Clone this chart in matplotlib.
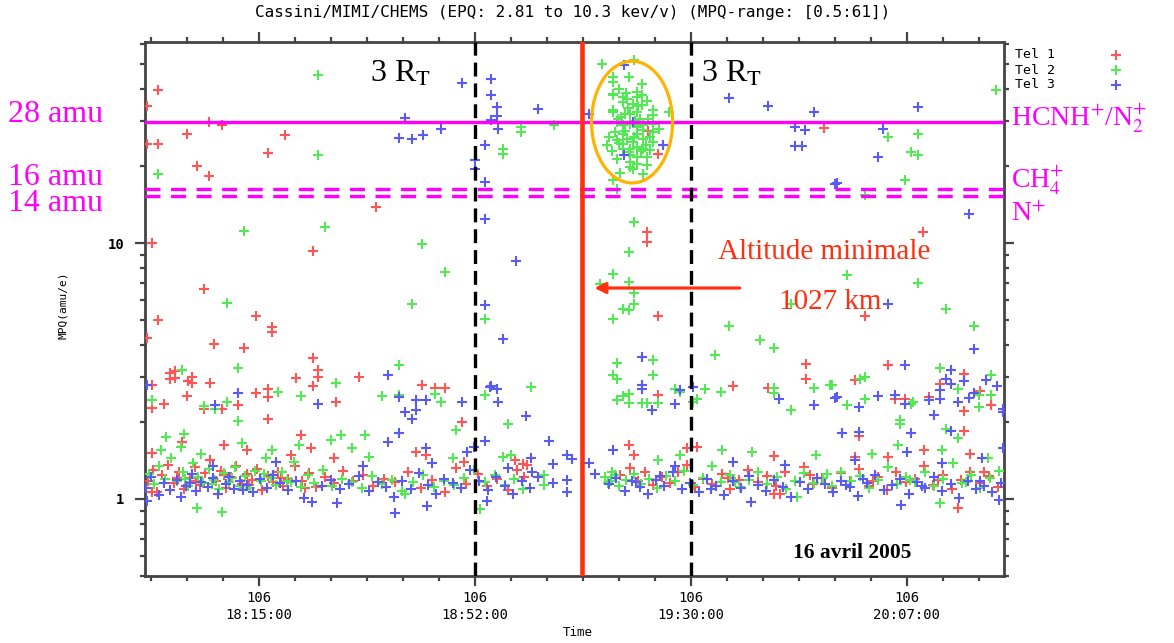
import matplotlib
matplotlib.use("Agg")
import matplotlib.pyplot as plt
from matplotlib.ticker import FixedLocator, MultipleLocator, NullFormatter, FixedFormatter
from matplotlib.patches import Ellipse
from matplotlib.lines import Line2D

plt.rcParams['mathtext.fontset'] = 'stix'
plt.rcParams['lines.scale_dashes'] = False

# ---------------- data (time in minutes after 18:00, MPQ in amu/e) ----------------
tick_pos = [15.0, 52.333, 89.667, 127.0]
tick_labels = ["106\n18:15:00", "106\n18:52:00", "106\n19:30:00", "106\n20:07:00"]
series_names = ["Tel 1", "Tel 2", "Tel 3"]
series_colors = ["#ff5555", "#55e855", "#5a5af5"]

red_hi = [(-2.5,39.6),(-4.4,34.3),(6.4,29.7),(8.6,28.9),(2.6,26.7),(19.5,26.4),(-4.4,24.4),(-2.5,24.4),
          (16.6,22.5),(4.3,20.0),(6.4,18.2),(-3.5,10.0),(24.4,9.3),(5.5,6.6),(-2.5,5.0),(14.5,5.19),
          (17.2,4.7),(17.2,4.5),(-4.4,4.26),(7.3,4.03),(12.4,3.88),(24.4,3.56),(25.2,3.2),(25.2,3.0),
          (-0.4,3.1),(0.5,3.15),(-0.4,2.95),(0.5,2.98),(2.8,2.9),(3.4,3.0),(3.4,2.85),(6.6,2.84),
          (-3.5,2.8),(21.4,2.97),(24.4,2.76),(2.6,2.52),(14.5,2.6),(16.6,2.7),(16.6,2.5),(-3.5,2.27),
          (-1.4,2.35),(5.5,2.25),(8.6,2.25),(11.4,2.33),(16.6,2.05),(22.3,1.77),
          (35.2,13.8),(32.3,3.0),(43.2,2.79),(45.4,2.71),(47.1,2.71),(28.3,2.39),(50.1,2.0),(42.2,1.52),
          (43.9,1.49),(82.3,27.4),(84.0,22.2),(82.1,11.0),(82.1,10.1),(84.0,5.2),(84.0,2.55),(79.0,1.63),
          (79.8,1.49),(112.7,28.2),(109.6,3.37),(109.6,2.95),(96.9,2.76),(103.0,2.71),(89.0,1.58),
          (90.7,1.6),(129.8,11.0),(119.8,5.2),(123.7,3.34),(136.8,3.08),(118.0,2.92),(132.7,2.82),
          (139.6,2.64),(124.9,2.46),(126.7,2.46),(130.8,2.5),(136.8,2.2),(141.6,2.33),(118.8,1.76),
          (136.8,1.84),(135.9,0.92),(104.0,1.05),(105.0,1.05),(-3.5,1.06)]

green_hi = [(25.2,45.3),(25.2,22.1),(-2.5,18.6),(12.4,11.1),(9.5,5.83),(11.4,3.25),(1.7,3.2),(18.3,2.62),
            (22.3,2.52),(-3.5,2.44),(5.5,2.3),(7.4,2.25),(9.5,2.4),(11.4,2.02),(-1.0,1.75),(2.0,1.8),
            (27.5,1.7),(4.3,0.92),(8.6,0.89),(26.4,11.6),(43.2,9.9),(47.1,7.7),(41.5,5.78),(54.0,5.05),
            (39.2,3.34),(28.3,2.84),(54.0,2.55),(36.3,2.52),(39.2,2.55),(45.4,2.57),(46.5,2.39),(49.0,1.86),
            (29.2,1.77),(33.3,1.77),(40.2,1.05),(53.2,0.91),(60.3,28.4),(60.3,27.1),(66.0,28.9),(57.2,23.3),
            (57.2,22.2),(56.1,2.7),(62.0,2.73),(58.0,1.96),(57.2,1.46),(74.3,50.0),(79.8,52.0),(76.2,17.6),
            (76.9,16.3),(79.8,12.1),(79.0,9.2),(76.2,7.6),(73.9,6.9),(79.0,7.05),(79.8,6.4),(79.8,5.8),
            (77.9,5.5),(79.0,5.45),(76.2,5.05),(83.1,3.5),(76.9,3.4),(76.2,3.05),(76.9,2.95),(83.1,3.05),
            (79.0,2.57),(77.9,2.52),(76.9,2.44),(79.0,2.37),(81.2,2.37),(82.1,2.37),(84.0,2.37),
            (85.9,32.4),(107.0,5.78),(96.3,4.76),(101.6,4.18),(104.0,3.88),(93.8,3.64),(111.0,2.71),
            (113.7,2.79),(92.1,2.68),(94.9,2.62),(104.0,2.71),(104.0,2.6),(86.9,2.7),(87.8,2.62),
            (90.7,2.46),(90.0,2.4),(107.0,2.22),(87.8,1.49),(108.0,1.02),(142.4,39.6),(123.7,25.9),
            (128.9,26.7),(127.7,22.6),(128.9,22.1),(126.7,17.6),(119.8,15.4),(116.6,7.5),(128.9,7.0),
            (133.8,5.5),(138.6,4.72),(132.7,3.25),(141.6,3.05),(119.8,3.0),(118.9,2.95),(114.0,2.79),
            (135.9,2.7),(139.4,2.55),(141.6,2.55),(119.8,2.46),(116.6,2.33),(128.0,2.4),(127.7,2.35),
            (139.4,2.29),(125.8,2.04),(125.8,1.96),(133.8,1.88),(135.9,1.73),(132.7,0.96)]

green_cluster = [(76.2,44.6),(76.2,42.6),(79.0,44.6),(81.2,41.8),(80.3,38.9),(76.2,38.2),(76.2,37.8),
                 (77.9,37.1),(78.6,36.5),(80.3,37.1),(81.2,37.8),(81.2,34.6),(77.9,35.5),(76.2,33.0),
                 (76.2,32.4),(78.3,31.8),(79.1,31.8),(80.3,32.4),(83.1,33.0),(83.1,31.6),(76.9,29.7),
                 (77.9,28.9),(79.1,29.2),(80.3,28.4),(81.4,28.9),(83.1,29.2),(76.5,27.1),(77.9,26.7),
                 (80.3,26.7),(81.4,27.6),(83.1,27.1),(75.1,24.1),(76.9,25.2),(78.6,25.5),(79.6,24.8),
                 (81.4,25.5),(83.1,24.8),(77.9,23.3),(79.1,23.3),(80.3,23.7),(81.4,23.3),(82.6,23.0),
                 (79.1,22.1),(80.3,21.7),(82.1,21.7),(76.9,21.3),(79.1,20.7),(80.3,20.4),(82.1,20.2),
                 (79.6,19.5),(81.4,18.6),(79.1,19.8),(77.1,30.5),(78.3,27.5),(82.6,26.0),(84.2,28.0),
                 (75.6,26.0),(77.3,40.0),(79.6,35.0),(82.0,35.8),(80.9,30.6),(78.0,24.3),(76.0,22.8),
                 (81.9,24.2),(77.5,18.8),(78.8,33.8),(80.6,34.2),(77.6,31.0),(79.9,26.0),(78.9,22.6),
                 (81.0,22.9),(77.2,24.6),(80.0,30.0),(82.3,30.4),(78.4,38.5)]

blue_hi = [(50.1,42.2),(55.1,43.8),(55.1,37.8),(40.2,30.8),(55.1,30.2),(39.2,25.7),(41.5,25.5),(43.3,26.4),
           (46.5,27.9),(54.0,24.1),(52.3,21.1),(52.3,19.5),(54.0,17.3),(54.0,12.4),(54.0,5.74),(37.3,3.05),
           (55.1,2.76),(39.2,2.5),(42.2,2.44),(43.9,2.44),(50.1,2.39),(40.2,2.18),(42.2,2.23),
           (41.5,2.06),(43.9,1.58),(39.2,1.81),(37.3,1.67),(54.0,1.69),(52.1,1.6),(38.5,0.88),
           (56.1,33.9),(56.1,31.3),(56.3,27.9),(63.2,33.3),(72.1,31.8),(78.1,49.6),(79.6,29.7),(78.1,22.0),
           (84.8,24.1),(59.4,8.5),(57.2,4.2),(81.2,3.6),(81.2,2.8),(81.2,2.7),(82.9,2.22),(55.0,2.73),
           (56.1,2.7),(56.3,2.4),(61.1,2.1),(65.1,1.69),(68.3,1.49),(69.1,1.43),(65.8,1.37),(68.3,1.19),
           (68.3,1.06),(65.8,1.15),(62.2,1.27),(63.2,1.22),(72.1,1.38),(73.1,1.25),(76.2,1.55),
           (96.3,36.8),(103.0,34.3),(111.0,32.4),(107.7,28.4),(109.4,27.6),(107.7,23.9),(108.8,23.9),
           (114.6,17.0),(104.9,2.46),(86.9,2.35),(87.8,2.66),(90.0,2.73),(111.0,2.33),(114.6,2.48),
           (128.9,33.9),(122.9,27.9),(122.0,21.7),(114.9,17.2),(137.7,13.0),(123.7,5.78),(138.6,3.85),
           (126.7,3.34),(134.6,3.2),(133.8,2.95),(134.6,2.82),(136.8,2.9),(140.7,2.92),(142.6,2.76),
           (132.7,2.66),(132.7,2.46),(138.6,2.6),(137.7,2.48),(114.9,2.5),(122.0,2.52),(124.9,2.55),
           (130.8,2.44),(126.7,2.35),(135.9,2.4),(118.8,2.29),(143.7,2.25),(143.7,2.18),(131.7,2.13),
           (115.8,1.81),(118.8,1.83),(127.7,1.81),(134.6,1.84),(143.7,1.58),(-4.4,2.8),(11.4,2.6),
           (7.4,2.33),(25.2,2.35),(-4.4,0.98)]

red_band = [(-4.2,1.18),(-3.3,1.30),(-2.6,1.06),(-1.7,1.24),(-0.8,1.36),(0.3,1.15),(1.2,1.27),(2.1,1.09),
            (3.0,1.21),(3.9,1.33),(4.8,1.13),(5.7,1.26),(6.6,1.42),(7.5,1.17),(8.4,1.29),(9.3,1.10),
            (10.2,1.22),(11.1,1.35),(12.0,1.14),(12.9,1.25),(13.8,1.19),(14.7,1.31),(15.6,1.08),(16.5,1.23),
            (17.4,1.16),(18.3,1.28),(19.2,1.12),(20.1,1.20),(21.3,1.34),(22.5,1.17),(23.7,1.26),(24.9,1.11),
            (26.4,1.22),(28.0,1.15),(29.6,1.29),(31.2,1.18),(33.0,1.24),(34.8,1.12),(36.6,1.20),(38.6,1.16),
            (40.8,1.27),(43.0,1.10),(45.0,1.19),(47.2,1.06),(49.0,1.32),(50.8,1.14),(52.8,1.25),(54.5,1.12),
            (56.2,1.20),(58.0,1.08),(59.6,1.30),(60.9,1.22),(77.4,1.24),(79.1,1.32),(80.5,1.18),(81.8,1.27),
            (83.2,1.13),(84.6,1.22),(86.0,1.15),(87.5,1.28),(89.0,1.36),(90.3,1.11),(91.8,1.20),(93.4,1.14),
            (95.0,1.25),(96.5,1.09),(98.0,1.19),(99.6,1.30),(101.2,1.16),(102.8,1.23),(104.4,1.12),(106.0,1.28),
            (107.6,1.18),(109.2,1.33),(110.8,1.14),(112.4,1.21),(114.0,1.10),(115.6,1.26),(117.2,1.17),
            (118.8,1.31),(120.4,1.12),(122.0,1.22),(123.6,1.08),(125.2,1.27),(126.8,1.16),(128.4,1.20),
            (130.0,1.34),(131.6,1.13),(133.2,1.24),(134.8,1.09),(136.4,1.19),(138.0,1.28),(139.6,1.15),
            (141.2,1.23),(142.8,1.11),
            (-3.5,1.51),(1.7,1.67),(9.0,1.62),(13.0,1.55),(20.5,1.48),(24.0,1.58),(28.0,1.45),(50.5,1.40),
            (59.2,1.42),(60.6,1.37),(61.3,1.36),(104.0,1.47),(118.0,1.46),(123.7,1.46),(130.0,1.55),(138.0,1.50),
            (0.8,1.21),(4.2,1.18),(8.9,1.24),(13.2,1.13),(18.8,1.21),(23.0,1.10),(96.0,1.21),(110.2,1.24),
            (121.2,1.17),(132.4,1.19),(140.3,1.27)]

green_band = [(-4.0,1.25),(-3.1,1.14),(-2.3,1.35),(-1.2,1.20),(-0.2,1.45),(0.9,1.17),(1.8,1.28),(2.7,1.12),
              (3.6,1.38),(4.5,1.22),(5.4,1.15),(6.3,1.31),(7.2,1.19),(8.1,1.09),(9.0,1.26),(9.9,1.16),
              (10.8,1.33),(11.7,1.12),(12.6,1.23),(13.5,1.10),(14.4,1.29),(15.3,1.17),(16.2,1.44),(17.1,1.21),
              (18.0,1.13),(18.9,1.27),(19.8,1.18),(21.0,1.40),(22.2,1.11),(23.4,1.24),(24.6,1.15),(26.0,1.30),
              (27.6,1.12),(29.4,1.20),(31.0,1.16),(32.8,1.10),(34.6,1.23),(36.2,1.14),(38.0,1.19),(39.8,1.07),
              (41.6,1.16),(43.4,1.24),(45.2,1.11),(47.0,1.18),(48.8,1.13),(50.4,1.21),(52.2,1.30),(54.0,1.16),
              (55.8,1.24),(57.5,1.13),(59.1,1.20),(60.6,1.09),(74.8,1.22),(75.4,1.15),(76.0,1.28),(77.2,1.12),
              (78.4,1.19),(79.8,1.25),(81.0,1.14),(82.4,1.20),(83.8,1.10),(85.3,1.23),(86.9,1.17),(88.5,1.29),
              (90.1,1.13),(91.7,1.21),(93.3,1.35),(94.9,1.16),(96.5,1.24),(98.1,1.11),(99.7,1.19),(101.3,1.27),
              (102.9,1.14),(104.5,1.22),(106.1,1.09),(107.7,1.18),(109.3,1.26),(110.9,1.15),(112.5,1.21),
              (114.1,1.12),(115.7,1.28),(117.3,1.17),(118.9,1.23),(120.5,1.10),(122.1,1.19),(123.7,1.33),
              (125.3,1.14),(126.9,1.22),(128.5,1.16),(130.1,1.27),(131.7,1.12),(133.3,1.20),(134.9,1.38),
              (136.5,1.15),(138.1,1.24),(139.7,1.10),(141.3,1.21),(142.9,1.29),
              (-2.0,1.55),(1.5,1.60),(5.0,1.50),(12.0,1.66),(17.3,1.56),(22.0,1.62),(31.0,1.58),(34.0,1.46),
              (48.5,1.45),(58.5,1.48),(64.2,1.24),(64.2,1.13),(84.0,1.42),(95.0,1.55),(100.3,1.52),
              (111.3,1.48),(121.0,1.50),(125.5,1.62),(133.0,1.56),(141.0,1.45),
              (2.2,1.20),(6.8,1.14),(10.4,1.21),(15.9,1.25),(20.6,1.16),(75.9,1.18),(76.6,1.24),(97.3,1.16),
              (113.2,1.25),(127.6,1.19),(137.2,1.16)]

blue_band = [(-4.5,1.10),(-3.6,1.22),(-2.2,1.04),(-1.5,1.15),(-0.3,1.08),(0.8,1.19),(1.6,1.02),(2.4,1.12),
             (3.5,1.25),(4.1,1.07),(5.0,1.16),(6.2,1.11),(7.0,1.21),(8.0,1.05),(9.3,1.14),(10.6,1.09),
             (11.8,1.18),(12.9,1.13),(14.0,1.06),(15.2,1.20),(16.4,1.10),(17.5,1.24),(18.6,1.15),(20.1,1.08),
             (21.4,1.17),(22.8,1.01),(24.1,0.97),(25.9,1.12),(27.4,1.19),(29.0,1.09),(30.6,1.14),(32.3,1.23),
             (34.0,1.07),(35.5,1.16),(37.0,1.11),(38.4,1.02),(39.8,1.18),(41.3,1.09),(42.7,1.26),(44.2,1.13),
             (45.6,1.05),(47.0,1.20),(48.5,1.15),(50.0,1.10),(51.5,1.30),(53.1,1.17),(54.6,1.08),(56.0,1.22),
             (57.5,1.12),(59.0,1.05),(60.5,1.18),(61.8,1.10),(75.5,1.14),(76.8,1.21),(78.2,1.07),(79.5,1.17),
             (80.9,1.11),(82.3,1.05),(83.6,1.19),(85.0,1.12),(86.5,1.27),(88.1,1.09),(89.6,1.15),(91.0,1.06),
             (92.5,1.20),(94.0,1.12),(95.4,1.04),(96.9,1.17),(98.3,1.10),(99.8,1.23),(101.2,1.13),(102.7,1.07),
             (104.1,1.19),(105.6,1.11),(107.0,1.02),(108.5,1.16),(109.9,1.09),(111.4,1.21),(112.8,1.14),
             (114.3,1.06),(115.7,1.18),(117.2,1.11),(118.6,1.03),(120.1,1.15),(121.5,1.24),(123.0,1.08),
             (124.4,1.13),(125.9,1.20),(127.3,1.05),(128.8,1.16),(130.2,1.10),(131.7,1.22),(133.1,1.07),
             (134.6,1.14),(136.0,1.01),(137.5,1.18),(138.9,1.09),(140.4,1.12),(141.8,1.06),(143.3,1.15),
             (7.0,1.35),(18.0,1.40),(33.0,1.35),(45.0,1.38),(51.0,1.52),(58.0,1.32),(62.0,1.45),(87.0,1.35),
             (97.0,1.40),(106.0,1.36),(118.0,1.42),(127.0,1.52),(133.0,1.38),(140.0,1.45),(28.5,0.96),
             (44.0,0.94),(54.5,0.98),(100.0,0.97),(126.0,0.95),(143.0,0.99),
             (3.0,1.15),(9.8,1.22),(12.2,1.08),(80.2,1.16),(84.3,1.23),(93.2,1.09),(116.4,1.13),(119.4,1.20),
             (129.6,1.12),(139.6,1.18)]

# reference lines (amu/e) and event times (minutes after 18:00)
line_28 = 29.7
line_16 = 16.3
line_14 = 15.2
t_3rt_in = 52.333
t_3rt_out = 89.667
t_ca = 70.8

# ---------------- figure ----------------
W, H = 1174, 643
fig = plt.figure(figsize=(W / 100, H / 100), dpi=100)
ax = fig.add_axes([145 / W, 67 / H, 859 / W, 534 / H])
ax.set_yscale('log')
ax.set_xlim(-4.7, 143.8)
ax.set_ylim(0.5, 61)

def split(pts):
    return [p[0] for p in pts], [p[1] for p in pts]

groups = [(red_band + red_hi, series_colors[0]),
          (green_band + green_hi + green_cluster, series_colors[1]),
          (blue_band + blue_hi, series_colors[2])]
for pts, col in groups:
    xs, ys = split(pts)
    ax.plot(xs, ys, linestyle='none', marker='+', markersize=7, markeredgewidth=1.5,
            color=col, zorder=3)

# horizontal species lines
ax.axhline(line_28, color='#ff00ff', lw=2.4, zorder=5)
for v in (line_16, line_14):
    ax.axhline(v, color='#ff00ff', lw=2.4, dashes=(10.8, 7.6), zorder=5)

# vertical lines
for t in (t_3rt_in, t_3rt_out):
    ax.axvline(t, color='black', lw=2.4, dashes=(10, 5), zorder=6)
ax.axvline(t_ca, color='#ff3010', lw=3.3, zorder=6)

# ellipse around green cluster
ax.add_patch(Ellipse((0.567, 0.850), 0.0943, 0.228, transform=ax.transAxes,
                     fill=False, edgecolor='#ffb300', lw=2.3, zorder=7))

# arrow
ax.annotate('', xy=(73.0, 6.67), xytext=(98.1, 6.67),
            arrowprops=dict(arrowstyle='-|>', color='#ff3010', lw=2.3, mutation_scale=16,
                            shrinkA=0, shrinkB=0), zorder=8)

# ticks
ax.xaxis.set_major_locator(FixedLocator(tick_pos))
ax.xaxis.set_major_formatter(FixedFormatter(tick_labels))
ax.xaxis.set_minor_locator(MultipleLocator(37.333 / 6, offset=15.0))
ax.yaxis.set_major_locator(FixedLocator([1, 10]))
ax.yaxis.set_major_formatter(FixedFormatter(['1', '10']))
ax.yaxis.set_minor_locator(FixedLocator([0.5, 0.6, 0.7, 0.8, 0.9, 2, 3, 4, 5, 6, 7, 8, 9, 20, 30, 40, 50, 60]))
ax.yaxis.set_minor_formatter(NullFormatter())
ax.tick_params(which='both', direction='out', top=True, right=True, color='#444444', width=1.6)
ax.tick_params(which='major', length=7)
ax.tick_params(which='minor', length=3.5)
ax.tick_params(axis='x', which='major', labelsize=10, pad=4, labelfontfamily='DejaVu Sans Mono')
ax.tick_params(axis='y', which='major', labelsize=10, pad=8, labelfontfamily='DejaVu Sans Mono')
for lab in ax.get_xticklabels():
    lab.set_linespacing(1.25)
for lab in ax.get_yticklabels():
    lab.set_fontweight('bold')
for s in ax.spines.values():
    s.set_color('#444444')
    s.set_linewidth(2)

def ftxt(x, y, s, **kw):
    fig.text(x / W, 1 - y / H, s, **kw)

mono = 'DejaVu Sans Mono'
serif = 'Liberation Serif'
ftxt(573, 13, 'Cassini/MIMI/CHEMS (EPQ: 2.81 to 10.3 kev/v) (MPQ-range: [0.5:61])',
     ha='center', va='center', fontsize=11.5, family=mono)
ftxt(578, 633, 'Time', ha='center', va='center', fontsize=9, family=mono)
ftxt(63, 305, 'MPQ(amu/e)', ha='center', va='center', rotation=90, fontsize=8, family=mono)

# legend
for i, (name, col) in enumerate(zip(series_names, series_colors)):
    y = 55 + 15 * i
    ftxt(1015, y, name, ha='left', va='center', fontsize=9.5, family=mono)
    fig.add_artist(Line2D([1116 / W], [1 - y / H], transform=fig.transFigure, marker='+',
                          markersize=7, markeredgewidth=1.5, color=col, linestyle='none'))

mag = '#ff00ff'
ftxt(8, 114, '28 amu', ha='left', va='center', fontsize=23, family=serif, color=mag)
ftxt(8, 177, '16 amu', ha='left', va='center', fontsize=23, family=serif, color=mag)
ftxt(8, 204, '14 amu', ha='left', va='center', fontsize=23, family=serif, color=mag)
ftxt(1011, 118, r'HCNH$^{+}$/N$_{2}^{+}$', ha='left', va='center', fontsize=20, family=serif, color=mag)
ftxt(1011, 180, r'CH$_{4}^{+}$', ha='left', va='center', fontsize=20, family=serif, color=mag)
ftxt(1011, 214, r'N$^{+}$', ha='left', va='center', fontsize=20, family=serif, color=mag)

ftxt(370, 74, r'3 R$_{\mathrm{T}}$', ha='left', va='center', fontsize=23, family=serif, color='black')
ftxt(701, 74, r'3 R$_{\mathrm{T}}$', ha='left', va='center', fontsize=23, family=serif, color='black')
ftxt(718, 252, 'Altitude minimale', ha='left', va='center', fontsize=21, family=serif, color='#ff3010')
ftxt(779, 302, '1027 km', ha='left', va='center', fontsize=21, family=serif, color='#ff3010')
ftxt(793, 553, '16 avril 2005', ha='left', va='center', fontsize=15.5, family=serif,
     fontweight='bold', color='black')

fig.savefig('out.png', dpi=100)
